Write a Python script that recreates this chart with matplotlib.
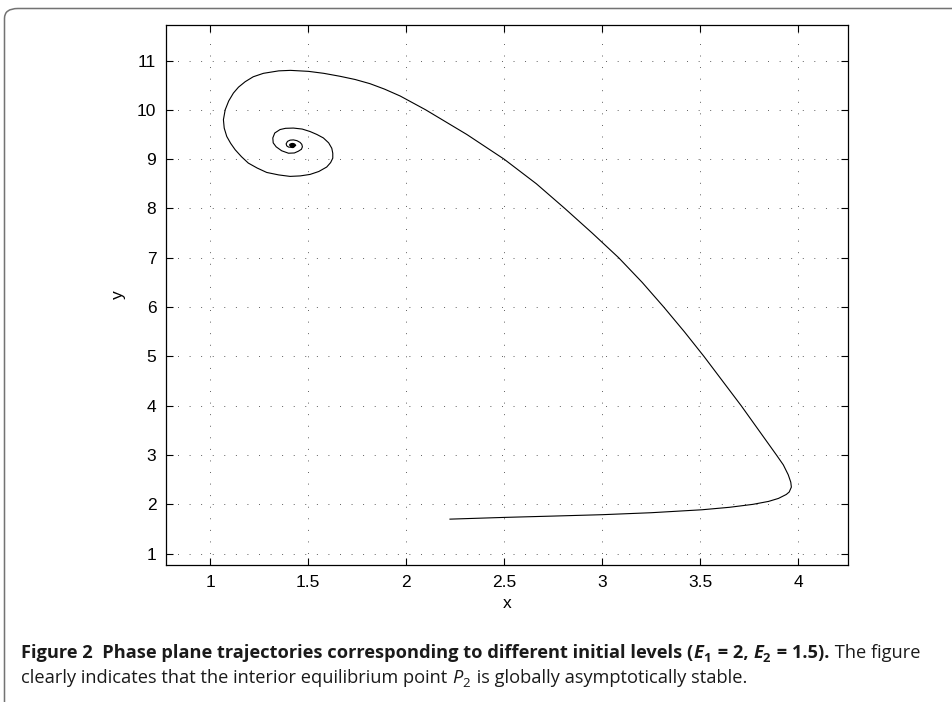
import matplotlib
matplotlib.use("Agg")
import matplotlib.pyplot as plt
from matplotlib.patches import FancyBboxPatch

# trajectory, from the start point to the equilibrium
traj_x = [2.224, 2.50, 2.75, 3.00, 3.25, 3.51, 3.65, 3.77, 3.85, 3.90,
          3.94, 3.955, 3.966, 3.963, 3.95, 3.925, 3.89, 3.80, 3.71, 3.615,
          3.52, 3.42, 3.315, 3.205, 3.085, 2.95, 2.81, 2.665, 2.50, 2.31,
          2.10, 1.97, 1.89, 1.816, 1.74, 1.663, 1.58, 1.502, 1.41, 1.35,
          1.272, 1.22, 1.179, 1.145, 1.119, 1.095, 1.077, 1.068, 1.072, 1.085,
          1.105, 1.128, 1.16, 1.195, 1.24, 1.289, 1.35, 1.408, 1.46, 1.51,
          1.555, 1.595, 1.615, 1.626, 1.626, 1.621, 1.605, 1.578, 1.545, 1.51,
          1.47, 1.425, 1.385, 1.357, 1.33, 1.32, 1.322, 1.337, 1.365, 1.40,
          1.43, 1.45, 1.466, 1.471, 1.468, 1.459, 1.443, 1.425, 1.408, 1.395,
          1.388, 1.391, 1.40, 1.415, 1.43, 1.437, 1.432, 1.42, 1.408, 1.405,
          1.412, 1.425, 1.42]
traj_y = [1.70, 1.735, 1.762, 1.79, 1.83, 1.89, 1.94, 2.00, 2.06, 2.12,
          2.20, 2.25, 2.35, 2.45, 2.60, 2.80, 3.00, 3.50, 4.00, 4.50,
          5.00, 5.50, 6.00, 6.50, 7.00, 7.50, 8.00, 8.50, 9.00, 9.50,
          10.00, 10.28, 10.42, 10.53, 10.615, 10.68, 10.74, 10.78, 10.80, 10.79,
          10.74, 10.67, 10.57, 10.46, 10.34, 10.18, 10.00, 9.80, 9.63, 9.46,
          9.32, 9.19, 9.05, 8.92, 8.82, 8.73, 8.68, 8.65, 8.66, 8.69,
          8.75, 8.84, 8.93, 9.02, 9.12, 9.22, 9.33, 9.43, 9.50, 9.56,
          9.61, 9.63, 9.625, 9.60, 9.53, 9.43, 9.33, 9.25, 9.17, 9.12,
          9.125, 9.16, 9.20, 9.25, 9.30, 9.34, 9.375, 9.39, 9.385, 9.36,
          9.31, 9.27, 9.245, 9.24, 9.255, 9.28, 9.305, 9.315, 9.305, 9.285,
          9.268, 9.275, 9.28]
eq_x, eq_y = 1.42, 9.28

x_ticks = [1, 1.5, 2, 2.5, 3, 3.5, 4]
x_labels = ['1', '1.5', '2', '2.5', '3', '3.5', '4']
y_ticks = list(range(1, 12))

plt.rcParams['font.family'] = ['Liberation Sans', 'DejaVu Sans']

fig = plt.figure(figsize=(9.53, 7.02), dpi=100)
ax = fig.add_axes([166/953, 1 - 565/702, (848 - 166)/953, (565 - 25)/702])

ax.plot(traj_x, traj_y, color='black', linewidth=0.8)
ax.plot([eq_x], [eq_y], 'o', color='black', markersize=2.8)

ax.set_xlim(0.775, 4.255)
ax.set_ylim(0.77, 11.72)
ax.set_xticks(x_ticks)
ax.set_xticklabels(x_labels)
ax.set_yticks(y_ticks)
ax.tick_params(direction='in', top=True, right=True, length=5, width=0.8,
               labelsize=12.5, pad=7)
ax.grid(True, color='0.3', linestyle=(0, (0.9, 11)), linewidth=0.7)
for s in ax.spines.values():
    s.set_linewidth(0.9)

ax.set_xlabel('x', fontsize=12.5, labelpad=4.5)
ax.set_ylabel('y', fontsize=12.5, labelpad=8)

# rounded frame around figure and caption
frame = FancyBboxPatch((4.5/953, -0.05), 1.2, 1 - 8.5/702 + 0.05,
                       boxstyle='round,pad=0,rounding_size=0.014',
                       transform=fig.transFigure, facecolor='none',
                       edgecolor='0.45', linewidth=1.1, clip_on=False)
fig.patches.append(frame)

# caption, placed run by run
cap_font = ['Open Sans', 'DejaVu Sans']
renderer = fig.canvas.get_renderer()


def put_runs(runs, x0, y0, size):
    x = x0
    made = []
    for txt, weight, style, sub in runs:
        s = size * (0.72 if sub else 1.0)
        y = y0 + (size * 0.3 if sub else 0)
        t = fig.text(x / 953, 1 - y / 702, txt, family=cap_font, size=s,
                     weight=weight, style=style, va='baseline', ha='left',
                     color='#1a1a1a')
        made.append(t)
        x += t.get_window_extent(renderer).width
        if sub:
            x += 2
    return x, made


line1 = [('Figure 2  Phase plane trajectories corresponding to different initial levels (', 'bold', 'normal', False),
         ('E', 'bold', 'italic', False), ('1', 'bold', 'normal', True),
         (' = 2, ', 'bold', 'normal', False),
         ('E', 'bold', 'italic', False), ('2', 'bold', 'normal', True),
         (' = 1.5).', 'bold', 'normal', False),
         (' The figure', 'normal', 'normal', False)]
line2 = [('clearly indicates that the interior equilibrium point ', 'normal', 'normal', False),
         ('P', 'normal', 'italic', False), ('2', 'normal', 'normal', True),
         (' is globally asymptotically stable.', 'normal', 'normal', False)]

# fit first line to the width it has in the original
end, tmp = put_runs(line1, 21, 658, 10)
for t in tmp:
    t.remove()
cap_size = 10 * (926 - 21) / (end - 21)
put_runs(line1, 21, 658, cap_size)
put_runs(line2, 21, 683, cap_size)

fig.savefig('out.png', dpi=100)
